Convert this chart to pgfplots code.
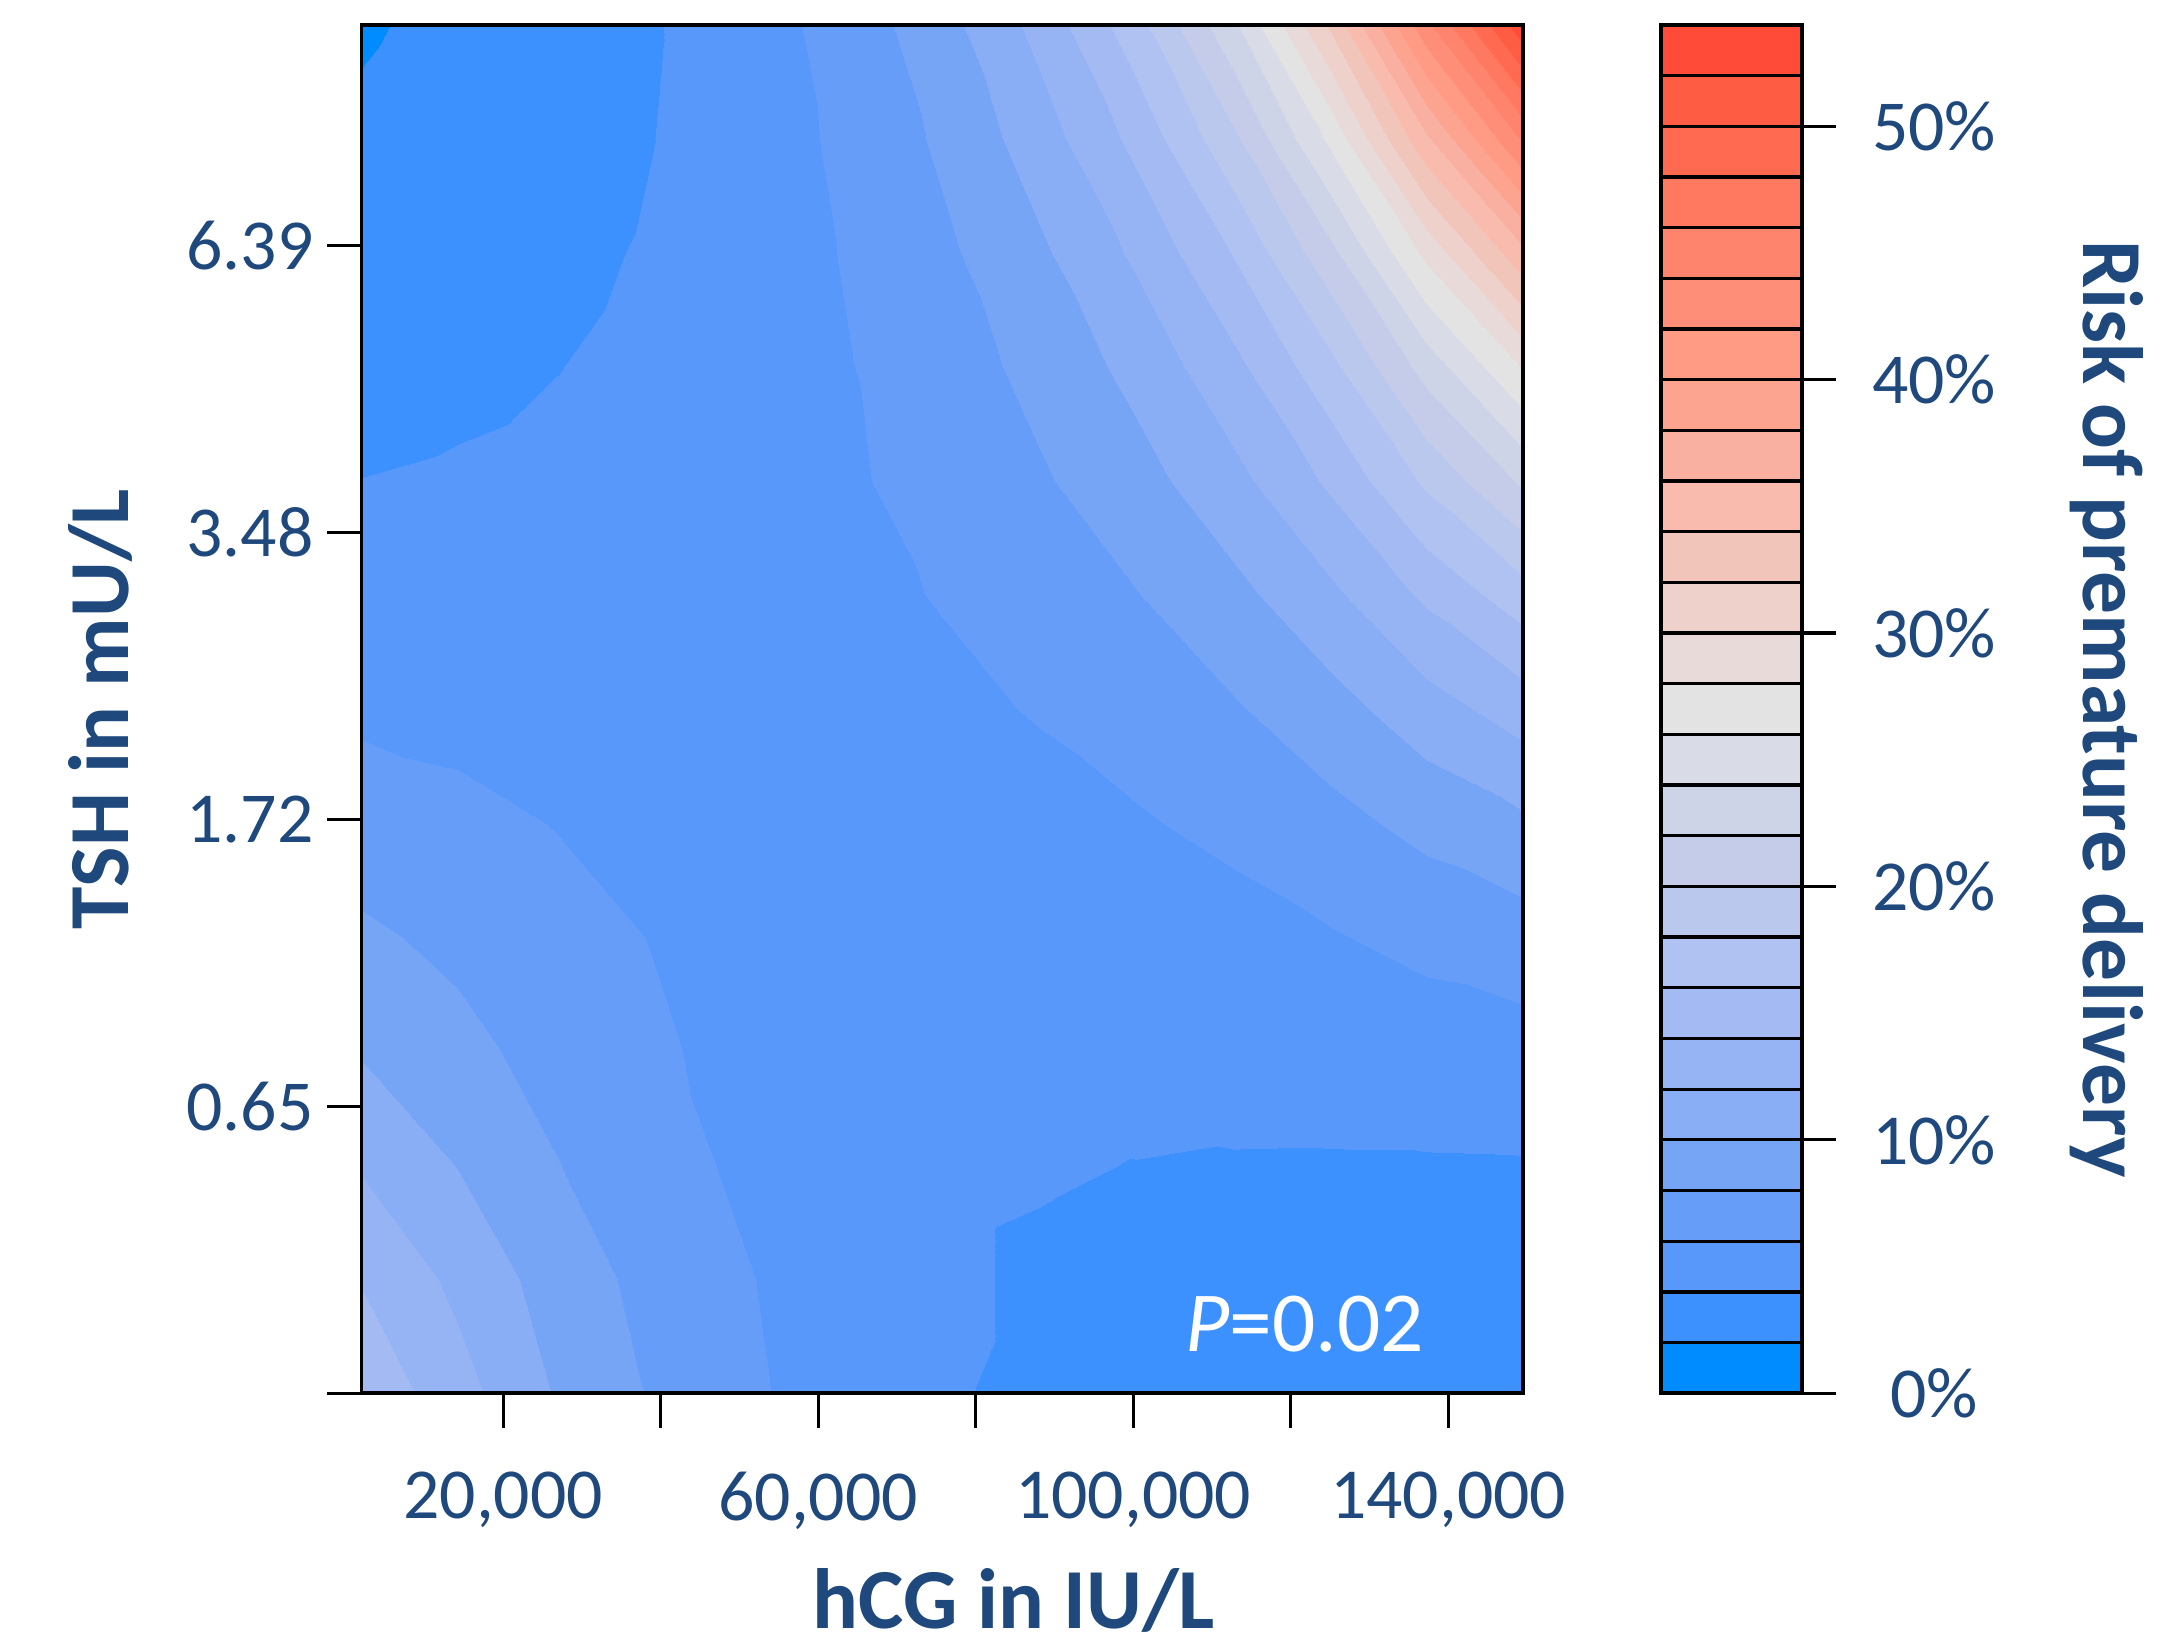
\documentclass[border=0pt]{standalone}
\usepackage{pgfplots}
\pgfplotsset{compat=1.18}
\usepackage{fontspec}
\setmainfont{Carlito}
\definecolor{tcol}{RGB}{31,73,125}
\pgfplotsset{colormap={risk}{rgb255=(0,140,255) rgb255=(60,145,255) rgb255=(87,152,250) rgb255=(102,157,248) rgb255=(119,165,246) rgb255=(137,174,246) rgb255=(150,180,244) rgb255=(163,187,242) rgb255=(175,194,241) rgb255=(186,200,238) rgb255=(197,204,234) rgb255=(206,212,232) rgb255=(217,220,230) rgb255=(227,227,227) rgb255=(232,218,216) rgb255=(238,209,202) rgb255=(242,197,187) rgb255=(248,187,173) rgb255=(250,176,160) rgb255=(252,164,144) rgb255=(255,154,132) rgb255=(255,142,120) rgb255=(255,132,110) rgb255=(255,120,96) rgb255=(255,106,80) rgb255=(255,92,68) rgb255=(255,75,55)}}
\begin{document}
\begin{tikzpicture}
\begin{axis}[
  name=main, at={(0pt,0pt)}, anchor=south west,
  scale only axis, width=210.5pt, height=248pt,
  xmin=2000, xmax=149500, ymin=0, ymax=4.77,
  colormap name=risk, colormap access=piecewise constant,
  point meta min=0, point meta max=54,
  axis on top,
  axis line style={line width=0.65pt},
  scaled x ticks=false,
  xtick={20000,40000,60000,80000,100000,120000,140000},
  xticklabels={20{,}000,,60{,}000,,100{,}000,,140{,}000},
  ytick={0,1,2,3,4}, yticklabels={,0.65,1.72,3.48,6.39},
  xtick pos=left, ytick pos=left,
  tick align=outside, major tick length=6.25pt,
  tick style={black, line width=0.55pt},
  ticklabel style={font=\fontsize{13}{13}\selectfont, text=tcol},
  xticklabel style={anchor=north, inner sep=0pt, yshift=-7.75pt},
  yticklabel style={anchor=east, inner sep=0pt, xshift=-2.25pt},
  xlabel={hCG in IU/L}, ylabel={TSH in mU/L},
  label style={font=\bfseries\fontsize{15.5}{15.5}\selectfont, text=tcol},
  xlabel style={at={(axis description cs:0.5618,-0.172)}, anchor=base},
  ylabel style={at={(axis description cs:-0.2245,0.5)}, anchor=center},
]
\addplot[surf, shader=interp, mesh/rows=13, mesh/cols=13, point meta=explicit] table[x=x, y=y, meta=p] {
x y p
2000 0 15.58
14292 0 12.74
26583 0 9.90
38875 0 7.84
51167 0 6.25
63458 0 5.18
75750 0 4.12
88042 0 3.75
100333 0 3.42
112625 0 3.25
124917 0 3.19
137208 0 3.13
149500 0 3.08

2000 0.3975 13.88
14292 0.3975 11.51
26583 0.3975 9.12
38875 0.3975 7.37
51167 0.3975 6.07
63458 0.3975 5.09
75750 0.3975 4.30
88042 0.3975 3.75
100333 0.3975 3.55
112625 0.3975 3.48
124917 0.3975 3.48
137208 0.3975 3.49
149500 0.3975 3.48

2000 0.795 11.81
14292 0.795 9.93
26583 0.795 8.09
38875 0.795 6.69
51167 0.795 5.64
63458 0.795 4.87
75750 0.795 4.30
88042 0.795 4.15
100333 0.795 3.97
112625 0.795 3.88
124917 0.795 3.86
137208 0.795 3.87
149500 0.795 3.90

2000 1.1925 9.85
14292 1.1925 8.58
26583 1.1925 7.26
38875 1.1925 6.24
51167 1.1925 5.48
63458 1.1925 4.95
75750 1.1925 4.55
88042 1.1925 4.45
100333 1.1925 4.60
112625 1.1925 4.75
124917 1.1925 4.85
137208 1.1925 5.00
149500 1.1925 5.23

2000 1.59 8.35
14292 1.59 7.52
26583 1.59 6.63
38875 1.59 5.95
51167 1.59 5.45
63458 1.59 5.13
75750 1.59 4.88
88042 1.59 4.87
100333 1.59 5.00
112625 1.59 5.32
124917 1.59 5.86
137208 1.59 6.54
149500 1.59 7.13

2000 1.9875 6.89
14292 1.9875 6.44
26583 1.9875 5.95
38875 1.9875 5.56
51167 1.9875 5.34
63458 1.9875 5.25
75750 1.9875 5.24
88042 1.9875 5.44
100333 1.9875 5.83
112625 1.9875 6.45
124917 1.9875 7.38
137208 1.9875 8.58
149500 1.9875 9.66

2000 2.385 5.68
14292 2.385 5.50
26583 2.385 5.32
38875 2.385 5.21
51167 2.385 5.24
63458 2.385 5.36
75750 2.385 5.62
88042 2.385 6.11
100333 2.385 6.78
112625 2.385 7.80
124917 2.385 9.22
137208 2.385 11.14
149500 2.385 12.93

2000 2.7825 4.76
14292 2.7825 4.79
26583 2.7825 4.85
38875 2.7825 4.96
51167 2.7825 5.20
63458 2.7825 5.57
75750 2.7825 6.09
88042 2.7825 6.88
100333 2.7825 7.93
112625 2.7825 9.43
124917 2.7825 11.53
137208 2.7825 14.37
149500 2.7825 17.13

2000 3.18 4.02
14292 3.18 4.20
26583 3.18 4.41
38875 3.18 4.70
51167 3.18 5.16
63458 3.18 5.78
75750 3.18 6.59
88042 3.18 7.76
100333 3.18 9.25
112625 3.18 11.38
124917 3.18 14.31
137208 3.18 18.37
149500 3.18 22.35

2000 3.5775 3.29
14292 3.5775 3.58
26583 3.5775 3.96
38875 3.5775 4.41
51167 3.5775 5.05
63458 3.5775 5.89
75750 3.5775 7.03
88042 3.5775 8.58
100333 3.5775 10.60
112625 3.5775 13.42
124917 3.5775 17.35
137208 3.5775 22.81
149500 3.5775 28.14

2000 3.975 2.72
14292 3.975 3.08
26583 3.975 3.58
38875 3.975 4.16
51167 3.975 5.00
63458 3.975 6.10
75750 3.975 7.61
88042 3.975 9.65
100333 3.975 12.34
112625 3.975 16.10
124917 3.975 21.31
137208 3.975 28.53
149500 3.975 35.50

2000 4.3725 2.24
14292 4.3725 2.65
26583 4.3725 3.24
38875 4.3725 3.97
51167 4.3725 4.99
63458 4.3725 6.37
75750 4.3725 8.33
88042 4.3725 11.00
100333 4.3725 14.57
112625 4.3725 19.52
124917 4.3725 26.36
137208 4.3725 35.64
149500 4.3725 44.33

2000 4.77 1.85
14292 4.77 2.35
26583 4.77 3.01
38875 4.77 3.86
51167 4.77 5.07
63458 4.77 6.77
75750 4.77 9.25
88042 4.77 12.63
100333 4.77 17.24
112625 4.77 23.60
124917 4.77 32.22
137208 4.77 43.50
149500 4.77 53.49
};
\node[anchor=base east, inner sep=0pt, text=white, font=\fontsize{15.5}{15.5}\selectfont] at (rel axis cs:0.9157,0.0302) {\textit{P}=0.02};
\end{axis}
\begin{axis}[
  at={(235.5pt,0pt)}, anchor=south west,
  scale only axis, width=25.5pt, height=248pt,
  xmin=0, xmax=1, ymin=0, ymax=54,
  colormap name=risk, colormap access=piecewise constant,
  point meta min=0, point meta max=54,
  axis on top, axis line style={line width=0.7pt},
  xtick=\empty,
  ytick={0,10,20,30,40,50}, yticklabels={0\%,10\%,20\%,30\%,40\%,50\%},
  ytick pos=right, yticklabel pos=right,
  tick align=outside, major tick length=6.25pt,
  tick style={black, line width=0.55pt},
  ticklabel style={font=\fontsize{13}{13}\selectfont, text=tcol},
  yticklabel style={anchor=center, inner sep=0pt, xshift=17.75pt},
  ylabel={Risk of premature delivery},
  ylabel style={at={(axis description cs:3.17,0.5)}, anchor=center, rotate=180, font=\bfseries\fontsize{15.5}{15.5}\selectfont, text=tcol},
]
\addplot[surf, shader=faceted, faceted color=black, line width=0.6pt, mesh/rows=28, mesh/cols=2, point meta=explicit] table[x=x, y=y, meta=c] {
x y c
0 0 0.5
1 0 0.5

0 2 2.5
1 2 2.5

0 4 4.5
1 4 4.5

0 6 6.5
1 6 6.5

0 8 8.5
1 8 8.5

0 10 10.5
1 10 10.5

0 12 12.5
1 12 12.5

0 14 14.5
1 14 14.5

0 16 16.5
1 16 16.5

0 18 18.5
1 18 18.5

0 20 20.5
1 20 20.5

0 22 22.5
1 22 22.5

0 24 24.5
1 24 24.5

0 26 26.5
1 26 26.5

0 28 28.5
1 28 28.5

0 30 30.5
1 30 30.5

0 32 32.5
1 32 32.5

0 34 34.5
1 34 34.5

0 36 36.5
1 36 36.5

0 38 38.5
1 38 38.5

0 40 40.5
1 40 40.5

0 42 42.5
1 42 42.5

0 44 44.5
1 44 44.5

0 46 46.5
1 46 46.5

0 48 48.5
1 48 48.5

0 50 50.5
1 50 50.5

0 52 52.5
1 52 52.5

0 54 53.9
1 54 53.9
};
\end{axis}
\pgfresetboundingbox
\path[use as bounding box] (-65.5pt,-45.25pt) rectangle (326.5pt,252.5pt);
\end{tikzpicture}
\end{document}
